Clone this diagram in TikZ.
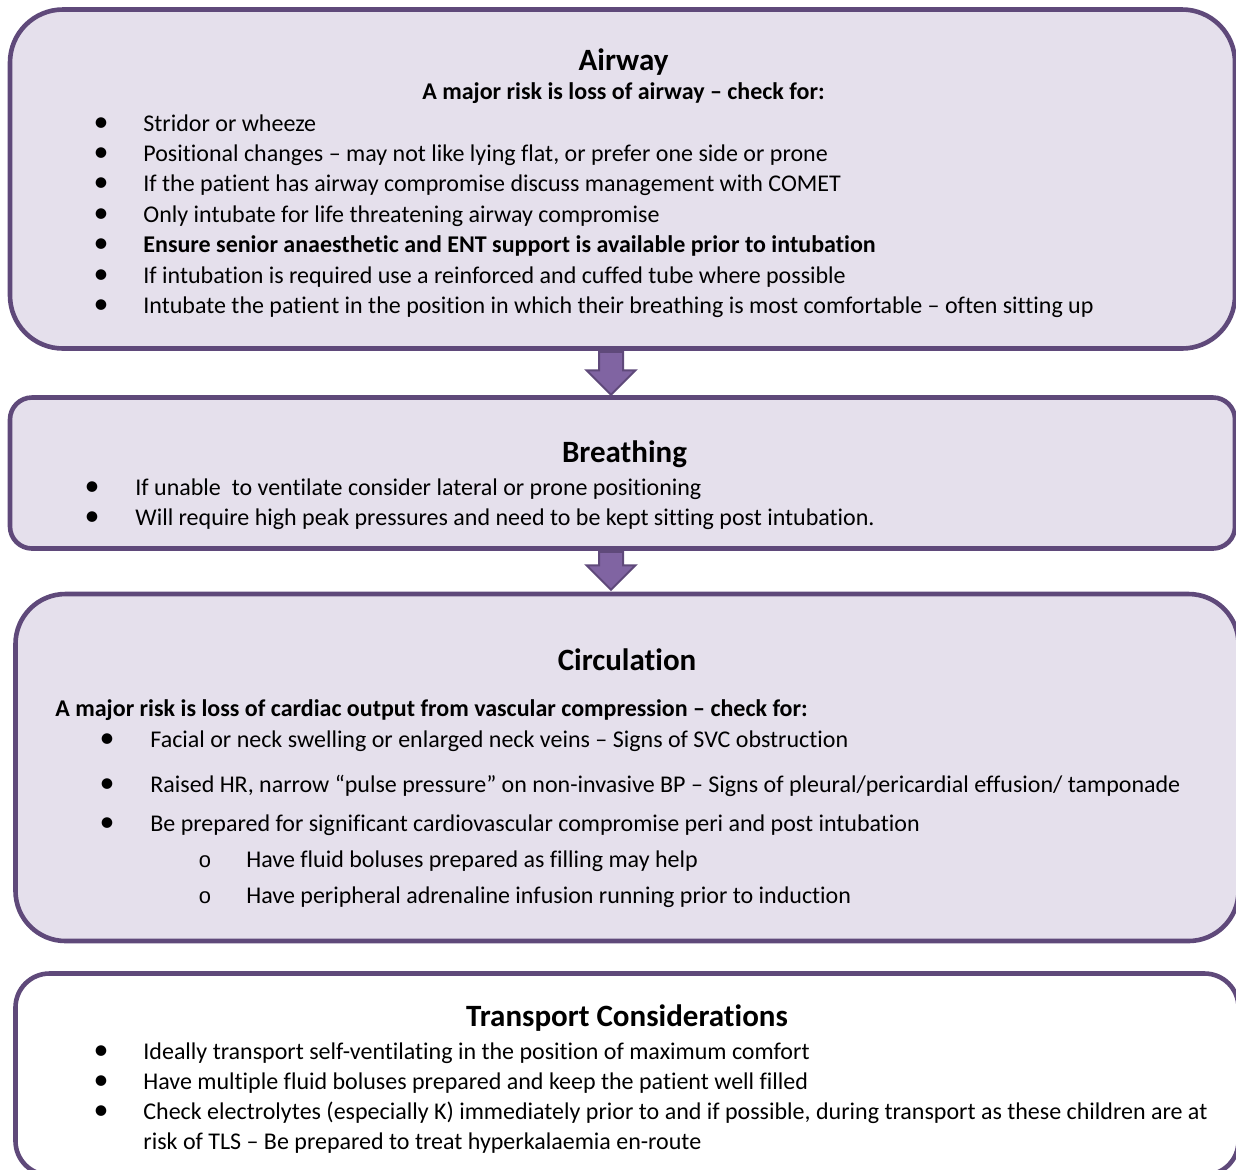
\documentclass[tikz,border=0pt]{standalone}
\usepackage{fontspec}
\setmainfont{Carlito}[Ligatures={CommonOff,ContextualOff}]
\newfontfamily\courfont{Liberation Mono}
\usetikzlibrary{shapes.arrows, positioning}

\definecolor{abcline}{HTML}{5F497A}
\definecolor{abcfill}{HTML}{E5E0EC}
\definecolor{abcarrow}{HTML}{8064A2}

\begin{document}
\begin{tikzpicture}[
    x=0.5pt, y=-0.5pt,
    box/.style={rectangle, draw=abcline, line width=2.3pt, fill=abcfill, inner sep=0pt},
    blockarrow/.style={single arrow, draw=abcline, line width=1pt, fill=abcarrow,
        inner sep=0pt, inner ysep=5.5pt, single arrow head extend=6.25pt,
        single arrow head indent=0pt, rotate=-90, anchor=tail},
    title/.style={anchor=base, font=\fontsize{15.5pt}{18pt}\selectfont\bfseries},
    line/.style={anchor=base west, inner sep=0pt, font=\fontsize{12pt}{14pt}\selectfont},
    sub/.style={anchor=base, inner sep=0pt, font=\fontsize{12pt}{14pt}\selectfont\bfseries},
    dot/.style={anchor=base, inner sep=0pt, font=\fontsize{15pt}{15pt}\selectfont},
]
    \clip (0,0) rectangle (1236,1169);
    \fill[white] (0,0) rectangle (1236,1169);

    % the four boxes
    \node[box, minimum width=612.5pt, minimum height=169.5pt, rounded corners=26.5pt] (airway) at (622.5,179) {};
    \node[box, minimum width=612.5pt, minimum height=75.5pt, rounded corners=11pt] (breathing) at (622.5,473) {};
    \node[box, minimum width=611.5pt, minimum height=173.5pt, rounded corners=25pt] (circulation) at (627,767.5) {};
    \node[box, fill=white, minimum width=611.5pt, minimum height=100.75pt, rounded corners=17pt] (transport) at (627,1074.25) {};

    % arrows between the boxes
    \node[blockarrow, minimum height=21.5pt] (airtobreath) at ([xshift=-5.75pt]airway.south) {};
    \node[blockarrow, minimum height=19pt] (breathtocirc) at ([xshift=-5.75pt]breathing.south) {};

    % Airway
    \node[title] (airwaytitle) at (623.5,70) {Airway};
    \node[sub] (airwaysub) at (623.5,99) {A major risk is loss of airway – check for:};
    \foreach \y/\t in {131/{Stridor or wheeze},
                       161/{Positional changes – may not like lying flat, or prefer one side or prone},
                       191/{If the patient has airway compromise discuss management with COMET},
                       222/{Only intubate for life threatening airway compromise},
                       252/{\textbf{Ensure senior anaesthetic and ENT support is available prior to intubation}},
                       283/{If intubation is required use a reinforced and cuffed tube where possible},
                       313/{Intubate the patient in the position in which their breathing is most comfortable – often sitting up}} {
        \node[dot] at (101,\y) {•};
        \node[line] at (143,\y) {\t};
    }

    % Breathing
    \node[title] (breathtitle) at (624.5,462) {Breathing};
    \foreach \y/\t in {495/{If unable\ \ to ventilate consider lateral or prone positioning},
                       525/{Will require high peak pressures and need to be kept sitting post intubation.}} {
        \node[dot] at (92,\y) {•};
        \node[line] at (135,\y) {\t};
    }

    % Circulation
    \node[title] (circtitle) at (627,670) {Circulation};
    \node[line, font=\fontsize{12pt}{14pt}\selectfont\bfseries] (circsub) at (55,716)
        {A major risk is loss of cardiac output from vascular compression – check for:};
    \foreach \y/\t in {747/{Facial or neck swelling or enlarged neck veins – Signs of SVC obstruction},
                       792/{Raised HR, narrow “pulse pressure” on non-invasive BP – Signs of pleural/pericardial effusion/ tamponade},
                       831/{Be prepared for significant cardiovascular compromise peri and post intubation}} {
        \node[dot] at (107,\y) {•};
        \node[line] at (150,\y) {\t};
    }
    \foreach \y/\t in {867/{Have fluid boluses prepared as filling may help},
                       903/{Have peripheral adrenaline infusion running prior to induction}} {
        \node[line, anchor=base, font=\fontsize{11pt}{12pt}\selectfont\courfont] at (205,\y) {o};
        \node[line] at (246,\y) {\t};
    }

    % Transport
    \node[title] (transtitle) at (627,1026) {Transport Considerations};
    \foreach \y/\t in {1059/{Ideally transport self-ventilating in the position of maximum comfort},
                       1089/{Have multiple fluid boluses prepared and keep the patient well filled},
                       1119/{Check electrolytes (especially K) immediately prior to and if possible, during transport as these children are at}} {
        \node[dot] at (101,\y) {•};
        \node[line] at (143,\y) {\t};
    }
    \node[line] (transwrap) at (143,1149) {risk of TLS – Be prepared to treat hyperkalaemia en-route};
\end{tikzpicture}
\end{document}
